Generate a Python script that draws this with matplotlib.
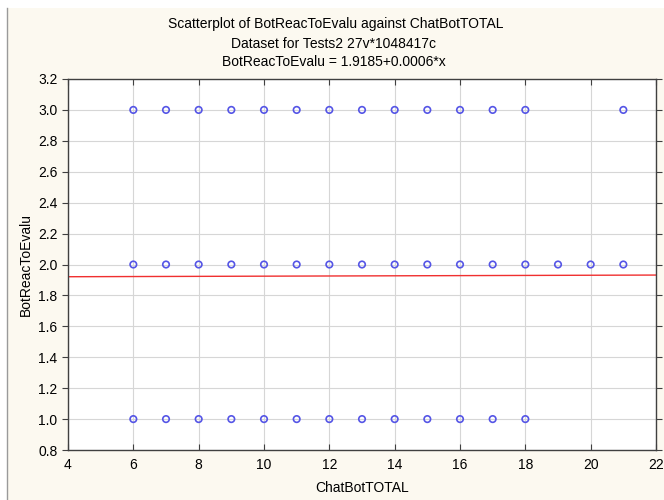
import matplotlib
matplotlib.use('Agg')
import matplotlib.pyplot as plt
from matplotlib.patches import Rectangle
from matplotlib.lines import Line2D
import numpy as np

plt.rcParams['font.family'] = ['Liberation Sans', 'DejaVu Sans']

# data
x_top = [6, 7, 8, 9, 10, 11, 12, 13, 14, 15, 16, 17, 18, 21]
x_mid = [6, 7, 8, 9, 10, 11, 12, 13, 14, 15, 16, 17, 18, 19, 20, 21]
x_low = [6, 7, 8, 9, 10, 11, 12, 13, 14, 15, 16, 17, 18]
y_levels = [3.0, 2.0, 1.0]
intercept = 1.9185
slope = 0.0006
x_ticks = [4, 6, 8, 10, 12, 14, 16, 18, 20, 22]
y_ticks = [0.8, 1.0, 1.2, 1.4, 1.6, 1.8, 2.0, 2.2, 2.4, 2.6, 2.8, 3.0, 3.2]

fig = plt.figure(figsize=(6.64, 5.0), dpi=100)
fig.patch.set_facecolor('white')
# cream panel with a grey line on its left edge
bg = Rectangle((7/664, 0), 1, 1 - 8/500, transform=fig.transFigure,
               facecolor='#fcf9f0', edgecolor='none', zorder=-10)
fig.patches.append(bg)
fig.lines.append(Line2D([7/664, 7/664], [0, 1 - 8/500], transform=fig.transFigure,
                        color='#9a9a9a', linewidth=1.0))

ax = fig.add_axes([68/664, 50/500, (656-68)/664, (450-79)/500])
ax.set_facecolor('white')

for xs, yv in zip([x_top, x_mid, x_low], y_levels):
    ax.scatter(xs, [yv]*len(xs), s=22, facecolors='none', edgecolors='#5555e6',
               linewidths=1.2, zorder=3)

xl = np.array([4, 22])
ax.plot(xl, intercept + slope*xl, color='#f03030', linewidth=1.0, zorder=2)

ax.set_xlim(4, 22)
ax.set_ylim(0.8, 3.2)
ax.set_xticks(x_ticks)
ax.set_yticks(y_ticks)
ax.set_yticklabels(['%.1f' % v for v in y_ticks])
ax.grid(True, color='#d6d6d6', linewidth=0.8)
ax.set_axisbelow(True)

ax.tick_params(axis='x', direction='in', top=True, length=4, labelsize=10, color='#404040', pad=6)
ax.tick_params(axis='y', direction='out', length=4, labelsize=10, color='#404040')
ax.tick_params(axis='y', which='major', right=True)
for sp in ax.spines.values():
    sp.set_color('#404040')
    sp.set_linewidth(1.0)

ax.set_xlabel('ChatBotTOTAL', fontsize=10, labelpad=6)
ax.set_ylabel('BotReacToEvalu', fontsize=10, labelpad=4)

fig.text(0.506, 0.944, 'Scatterplot of BotReacToEvalu against ChatBotTOTAL', ha='center', fontsize=10)
fig.text(0.503, 0.904, 'Dataset for Tests2 27v*1048417c', ha='center', fontsize=10)
fig.text(0.503, 0.868, 'BotReacToEvalu = 1.9185+0.0006*x', ha='center', fontsize=10)

fig.savefig('out.png', dpi=100)
